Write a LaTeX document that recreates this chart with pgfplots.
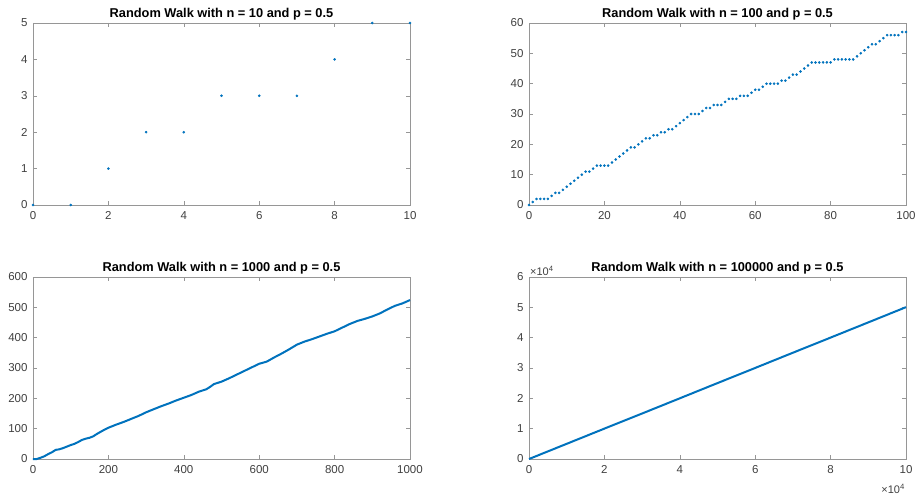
\documentclass[border=0pt]{standalone}
\usepackage{pgfplots}
\pgfplotsset{compat=1.18}
\usepackage{fontspec}
\setmainfont{Liberation Sans}
\definecolor{mblue}{RGB}{0,114,189}
\definecolor{framegray}{RGB}{150,150,150}
\definecolor{labgray}{RGB}{64,64,64}
\pgfplotsset{
  mlab/.style={
    scale only axis, width=377pt, height=182pt, anchor=south west,
    axis line style={draw=framegray}, tick style={draw=framegray, line width=0.5pt},
    tick align=inside, major tick length=4pt,
    ticklabel style={font=\fontsize{11.5}{13}\selectfont, text=labgray},
    xticklabel style={yshift=-3pt},
    yticklabel style={xshift=-2pt},
    title style={font=\bfseries\fontsize{12.8}{15}\selectfont, yshift=-6.5pt},
    enlargelimits=false, scaled ticks=false,
    /pgf/number format/assume math mode=true,
    /pgf/number format/1000 sep={},
    clip=false,
  }
}
\begin{document}
\begin{tikzpicture}
\path[use as bounding box] (0,0) rectangle (918pt,499pt);
% n = 10
\begin{axis}[mlab, at={(33pt,294pt)}, title={Random Walk with n = 10 and p = 0.5},
  xmin=0, xmax=10, ymin=0, ymax=5, xtick={0,2,...,10}, ytick={0,1,...,5}]
\addplot[only marks, mark=*, mark size=1.1pt, color=mblue] coordinates {
(0,0)(1,0)(2,1)(3,2)(4,2)(5,3)(6,3)(7,3)(8,4)(9,5)(10,5)};
\end{axis}
% n = 100
\begin{axis}[mlab, at={(529pt,294pt)}, title={Random Walk with n = 100 and p = 0.5},
  xmin=0, xmax=100, ymin=0, ymax=60, xtick={0,20,...,100}, ytick={0,10,...,60}]
\addplot[only marks, mark=*, mark size=1.1pt, color=mblue] coordinates {
(0,0)(1,1)(2,2)(3,2)(4,2)(5,2)(6,3)(7,4)(8,4)(9,5)(10,6)
(11,7)(12,8)(13,9)(14,10)(15,11)(16,11)(17,12)(18,13)(19,13)(20,13)
(21,13)(22,14)(23,15)(24,16)(25,17)(26,18)(27,19)(28,19)(29,20)(30,21)
(31,22)(32,22)(33,23)(34,23)(35,24)(36,24)(37,25)(38,25)(39,26)(40,27)
(41,28)(42,29)(43,30)(44,30)(45,30)(46,31)(47,32)(48,32)(49,33)(50,33)
(51,33)(52,34)(53,35)(54,35)(55,35)(56,36)(57,36)(58,36)(59,37)(60,38)
(61,38)(62,39)(63,40)(64,40)(65,40)(66,40)(67,41)(68,41)(69,42)(70,43)
(71,43)(72,44)(73,45)(74,46)(75,47)(76,47)(77,47)(78,47)(79,47)(80,47)
(81,48)(82,48)(83,48)(84,48)(85,48)(86,48)(87,49)(88,50)(89,51)(90,52)
(91,53)(92,53)(93,54)(94,55)(95,56)(96,56)(97,56)(98,56)(99,57)(100,57)};
\end{axis}
% n = 1000
\begin{axis}[mlab, at={(33pt,40pt)}, title={Random Walk with n = 1000 and p = 0.5},
  xmin=0, xmax=1000, ymin=0, ymax=600, xtick={0,200,...,1000}, ytick={0,100,...,600}]
\addplot[color=mblue, line width=2pt] coordinates {
(0,0)(10,0)(20,4)(30,9)(40,16)(50,22)(60,30)(70,32)(80,36)(90,41)(100,46)
(110,50)(120,56)(130,63)(140,67)(150,70)(160,75)(170,83)(180,90)(190,97)
(200,103)(220,113)(240,122)(260,132)(280,142)(300,154)(320,164)
(340,174)(360,183)(380,193)(400,202)(420,211)(440,222)(460,230)(470,238)(480,247)
(500,255)(520,266)(540,278)(560,290)(580,302)(600,314)(620,321)(640,335)
(660,348)(680,362)(700,377)(720,387)(740,395)(760,404)(780,413)(800,421)
(820,433)(840,445)(860,455)(880,462)(900,470)(920,480)(940,493)(960,505)
(980,513)(1000,524)};
\end{axis}
% n = 100000
\begin{axis}[mlab, at={(529pt,40pt)}, title={Random Walk with n = 100000 and p = 0.5},
  xmin=0, xmax=100000, ymin=0, ymax=60000,
  xtick={0,20000,40000,60000,80000,100000}, xticklabels={0,2,4,6,8,10},
  ytick={0,10000,20000,30000,40000,50000,60000}, yticklabels={0,1,2,3,4,5,6}]
\addplot[color=mblue, line width=2pt] coordinates {
(0,0)(10000,5010)(20000,10020)(30000,15000)(40000,20010)(50000,25030)
(60000,30020)(70000,35040)(80000,40030)(90000,45040)(100000,50060)};
\node[anchor=south west, font=\fontsize{11}{13}\selectfont, text=labgray, inner sep=1pt]
  at (rel axis cs:0,1) {×10\textsuperscript{4}};
\node[anchor=north east, font=\fontsize{11}{13}\selectfont, text=labgray, inner sep=1pt]
  at ([yshift=-24pt]rel axis cs:1,0) {×10\textsuperscript{4}};
\end{axis}
\end{tikzpicture}
\end{document}
